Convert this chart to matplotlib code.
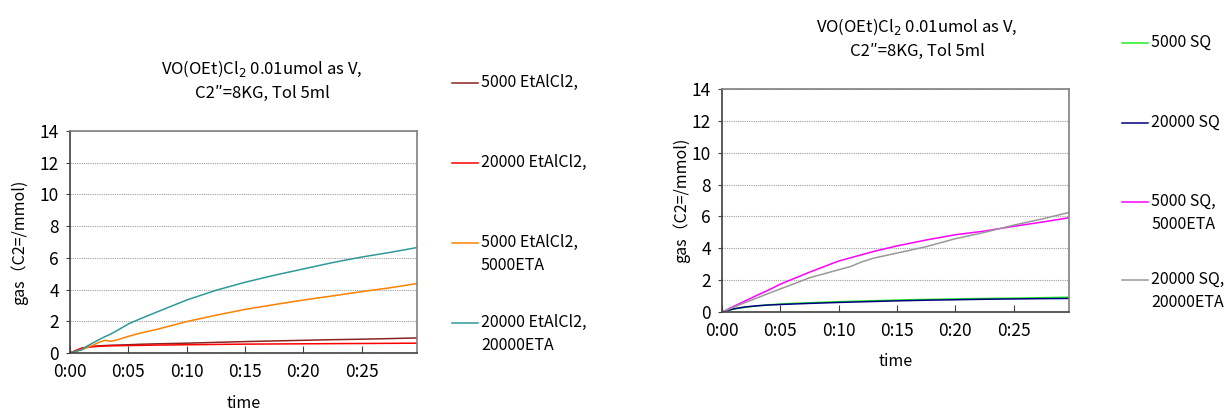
import matplotlib
matplotlib.use("Agg")
import matplotlib.pyplot as plt
from matplotlib.lines import Line2D
from matplotlib.ticker import FuncFormatter

plt.rcParams['font.family'] = ['Noto Sans CJK JP', 'DejaVu Sans']

# time in minutes, gas in mmol
t_a = [0, 0.5, 1, 1.5, 2, 2.5, 3, 3.5, 4, 5, 6, 7.5, 10, 12.5, 15, 17.5, 20, 22.5, 25, 27.5, 29.75]
etal_5000 = [0, 0.15, 0.3, 0.38, 0.42, 0.45, 0.47, 0.49, 0.5, 0.52, 0.55, 0.58, 0.62, 0.67, 0.72, 0.76, 0.8, 0.84, 0.87, 0.91, 0.95]
etal_20000 = [0, 0.15, 0.3, 0.36, 0.4, 0.42, 0.44, 0.45, 0.46, 0.47, 0.48, 0.5, 0.52, 0.54, 0.56, 0.57, 0.58, 0.59, 0.6, 0.61, 0.62]
etal_5000_eta = [0, 0.1, 0.22, 0.35, 0.5, 0.68, 0.8, 0.74, 0.82, 1.05, 1.25, 1.5, 1.98, 2.38, 2.75, 3.05, 3.34, 3.6, 3.87, 4.12, 4.38]
etal_20000_eta = [0, 0.1, 0.2, 0.45, 0.65, 0.85, 1.03, 1.2, 1.4, 1.83, 2.15, 2.6, 3.34, 3.95, 4.46, 4.9, 5.3, 5.7, 6.05, 6.35, 6.65]

t_b = [0, 1, 2, 3, 4, 5, 6, 7.5, 10, 11, 12, 13, 15, 17.5, 20, 22.5, 25, 27.5, 29.75]
sq_5000 = [0, 0.18, 0.3, 0.38, 0.45, 0.5, 0.54, 0.58, 0.65, 0.67, 0.69, 0.71, 0.75, 0.79, 0.82, 0.85, 0.87, 0.9, 0.93]
sq_20000 = [0, 0.2, 0.32, 0.39, 0.44, 0.47, 0.5, 0.54, 0.6, 0.62, 0.64, 0.66, 0.7, 0.74, 0.77, 0.8, 0.82, 0.84, 0.85]
sq_5000_eta = [0, 0.35, 0.7, 1.05, 1.38, 1.75, 2.05, 2.5, 3.2, 3.4, 3.6, 3.8, 4.15, 4.52, 4.85, 5.08, 5.38, 5.65, 5.92]
sq_20000_eta = [0, 0.3, 0.6, 0.88, 1.17, 1.45, 1.72, 2.15, 2.65, 2.85, 3.15, 3.38, 3.7, 4.1, 4.6, 5.0, 5.45, 5.85, 6.25]

labels_a = ["5000 EtAlCl2,", "20000 EtAlCl2,", "5000 EtAlCl2,\n5000ETA", "20000 EtAlCl2,\n20000ETA"]
labels_b = ["5000 SQ", "20000 SQ", "5000 SQ,\n5000ETA", "20000 SQ,\n20000ETA"]
colors_a = ['#8B2323', '#FF0000', '#FF8000', '#2E9999']
colors_b = ['#22EE22', '#000080', '#FF00FF', '#999999']

title = "VO(OEt)Cl$_2$ 0.01umol as V,\nC2″=8KG, Tol 5ml"

W, H = 1226, 412
fig = plt.figure(figsize=(W / 100, H / 100), dpi=100)


def make_panel(rect, t, series, colors, labels, title_xy, leg_x, leg_y, ylab_x, xlab_y):
    ax = fig.add_axes(rect)
    for s, c in zip(series, colors):
        ax.plot(t, s, color=c, lw=1.1)
    ax.set_xlim(0, 29.75)
    ax.set_ylim(0, 14)
    ax.set_yticks(range(0, 15, 2))
    ax.set_xticks([0, 5, 10, 15, 20, 25])
    ax.xaxis.set_major_formatter(FuncFormatter(lambda v, p: "0:%02d" % int(round(v))))
    ax.tick_params(axis='x', direction='in', length=5, labelsize=12.5, pad=7, color='#404040')
    ax.tick_params(axis='y', direction='out', length=3, labelsize=12.5, pad=5, color='#404040')
    ax.grid(axis='y', color='#a0a0a0', lw=0.8, ls=(0, (1, 1)))
    for sp in ax.spines.values():
        sp.set_color('#808080')
        sp.set_linewidth(1.2)
    ax.spines['bottom'].set_color('#404040')
    ax.spines['left'].set_color('#404040')

    fig.text(title_xy[0] / W, 1 - title_xy[1] / H, title, ha='center', va='center',
             fontsize=12, linespacing=1.45)
    fig.text(ylab_x / W, rect[1] + rect[3] / 2, "gas（C2=/mmol)", rotation=90,
             ha='center', va='center', fontsize=11.5)
    fig.text(rect[0] + rect[2] / 2, 1 - xlab_y / H, "time", ha='center', va='center', fontsize=11.5)

    for lab, c, ly in zip(labels, colors, leg_y):
        fig.add_artist(Line2D([leg_x / W, (leg_x + 26) / W], [1 - ly / H] * 2, color=c, lw=1.1))
        fig.text((leg_x + 29) / W, 1 - (ly - 9) / H, lab, ha='left', va='top', fontsize=11.5,
                 linespacing=1.45)
    return ax


make_panel([70 / W, 59 / H, 347 / W, 222 / H], t_a,
           [etal_5000, etal_20000, etal_5000_eta, etal_20000_eta], colors_a, labels_a,
           (262, 80), 452, [83, 163, 243, 323], 19, 403)
make_panel([722 / W, 100 / H, 347 / W, 223 / H], t_b,
           [sq_5000, sq_20000, sq_5000_eta, sq_20000_eta], colors_b, labels_b,
           (917, 38), 1122, [43, 123, 202, 280], 681, 362)

fig.savefig("out.png", dpi=100)
